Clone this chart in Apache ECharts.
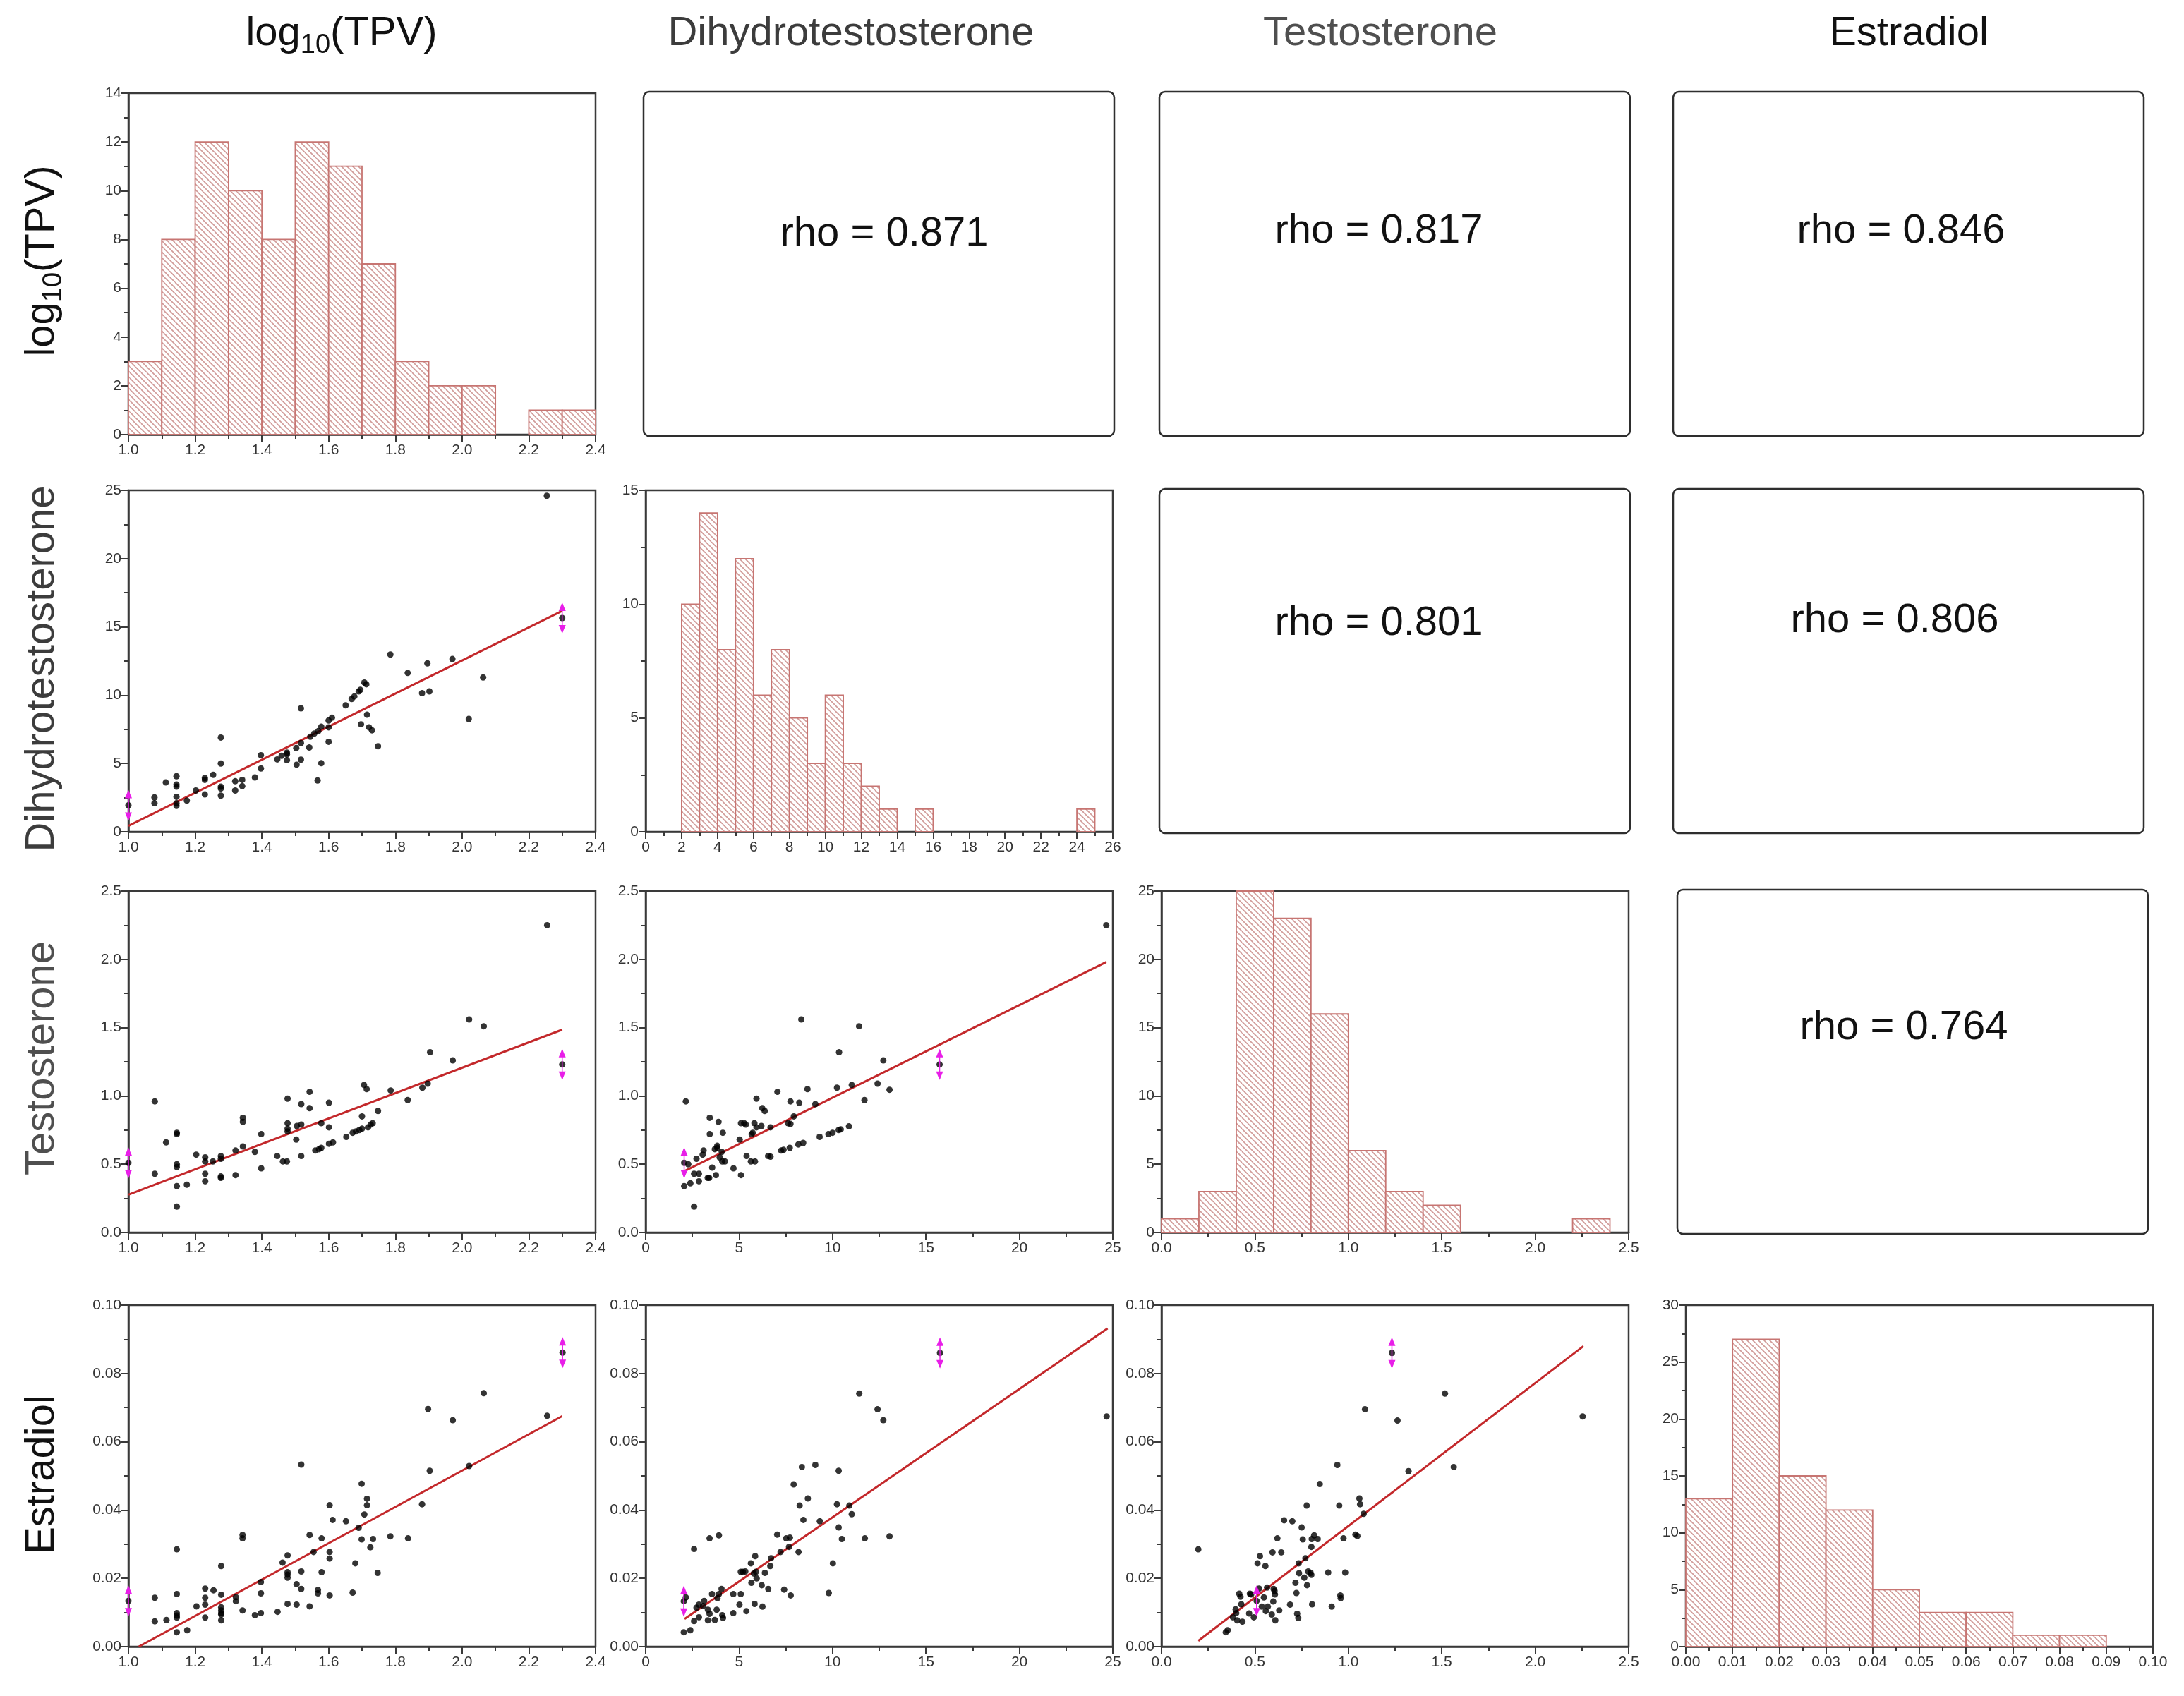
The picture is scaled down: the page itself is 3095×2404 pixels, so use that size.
<!DOCTYPE html>
<html>
<head>
<meta charset="utf-8">
<script src="https://cdn.jsdelivr.net/npm/echarts@6/dist/echarts.min.js"></script>
<style>
  html, body { margin: 0; background: #fff; }
  #main { width: 3095px; height: 2404px; }
</style>
</head>
<body>
<div id="main"></div>
<script>
// ---- data ----
var varNames = ['log10(TPV)', 'Dihydrotestosterone', 'Testosterone', 'Estradiol'];

// histogram counts (bin start, bin width, counts)
var tpvHist = { start: 1.0, width: 0.1, counts: [3, 8, 12, 10, 8, 12, 11, 7, 3, 2, 2, 0, 1, 1] };
var dhtHist = { start: 2, width: 1, counts: [10, 14, 8, 12, 6, 8, 5, 3, 6, 3, 2, 1, 0, 1, 0, 0, 0, 0, 0, 0, 0, 0, 1] };
var tHist = { start: 0, width: 0.2, counts: [1, 3, 25, 23, 16, 6, 3, 2, 0, 0, 0, 1] };
var eHist = { start: 0, width: 0.01, counts: [13, 27, 15, 12, 5, 3, 3, 1, 1] };

// scatter points [x, y]
var tpvDht = [[1.0,1.94],[1.078,2.52],[1.078,2.09],[1.112,3.61],[1.144,4.07],[1.144,3.46],[1.144,3.30],[1.144,2.56],[1.144,2.09],[1.144,1.90],
  [1.175,2.28],[1.202,3.02],[1.229,3.94],[1.229,3.80],[1.229,2.74],[1.254,4.17],[1.277,6.9],[1.277,5.0],[1.277,3.3],[1.277,3.17],[1.277,2.65],
  [1.32,3.7],[1.32,3.02],[1.341,3.8],[1.341,3.35],[1.379,3.98],[1.397,5.61],[1.397,4.63],[1.446,5.30],[1.459,5.56],[1.475,5.8],[1.475,5.67],
  [1.475,5.24],[1.503,6.13],[1.504,4.91],[1.517,9.04],[1.517,6.5],[1.517,5.28],[1.542,6.17],[1.545,6.96],[1.557,7.19],[1.569,7.37],[1.567,3.76],
  [1.578,7.69],[1.578,5.02],[1.6,8.15],[1.6,7.65],[1.6,6.59],[1.61,8.35],[1.651,9.26],[1.669,9.72],[1.677,9.91],[1.69,10.28],[1.695,10.39],
  [1.707,10.93],[1.713,10.8],[1.715,8.57],[1.697,7.87],[1.721,7.65],[1.73,7.43],[1.748,6.26],[1.785,12.98],[1.837,11.63],[1.88,10.15],
  [1.896,12.33],[1.902,10.28],[1.971,12.65],[2.02,8.26],[2.063,11.3],[2.254,24.6],[2.30,15.65]];
var tpvT = [[1.0,0.51],[1.079,0.96],[1.079,0.43],[1.113,0.66],[1.145,0.73],[1.145,0.72],[1.145,0.50],[1.145,0.48],[1.145,0.34],[1.145,0.19],
  [1.175,0.35],[1.203,0.57],[1.23,0.55],[1.23,0.52],[1.23,0.43],[1.23,0.375],[1.253,0.52],[1.277,0.56],[1.277,0.54],[1.277,0.41],[1.277,0.40],
  [1.321,0.60],[1.321,0.42],[1.343,0.84],[1.343,0.81],[1.343,0.63],[1.379,0.59],[1.398,0.72],[1.398,0.47],[1.446,0.56],[1.463,0.52],[1.475,0.52],
  [1.477,0.98],[1.477,0.80],[1.477,0.76],[1.477,0.74],[1.503,0.68],[1.505,0.78],[1.518,0.94],[1.518,0.79],[1.518,0.56],[1.543,1.03],[1.543,0.91],
  [1.56,0.60],[1.571,0.61],[1.578,0.62],[1.578,0.80],[1.601,0.95],[1.601,0.77],[1.601,0.65],[1.613,0.66],[1.653,0.70],[1.672,0.73],[1.682,0.74],
  [1.692,0.75],[1.70,0.76],[1.70,0.85],[1.706,1.08],[1.714,1.05],[1.718,0.77],[1.726,0.79],[1.732,0.80],[1.748,0.89],[1.786,1.04],[1.837,0.97],
  [1.881,1.06],[1.897,1.09],[1.904,1.32],[1.972,1.26],[2.021,1.56],[2.065,1.51],[2.255,2.25],[2.30,1.23]];
var dhtT = [[2.06,0.51],[2.15,0.96],[2.06,0.34],[2.28,0.50],[2.39,0.36],[2.59,0.19],[2.59,0.43],[2.72,0.54],[2.85,0.43],[2.85,0.375],
  [3.05,0.57],[3.1,0.60],[3.32,0.40],[3.4,0.40],[3.43,0.84],[3.43,0.72],[3.56,0.475],[3.7,0.61],[3.76,0.42],[3.83,0.62],[3.83,0.635],[3.9,0.81],
  [3.96,0.55],[4.07,0.59],[4.1,0.52],[4.24,0.52],[4.13,0.73],[4.7,0.47],[5.03,0.68],[5.1,0.80],[5.27,0.80],[5.36,0.79],[5.1,0.42],[5.4,0.56],
  [5.63,0.52],[5.85,0.52],[5.67,0.72],[5.73,0.73],[5.82,0.80],[5.93,0.98],[5.93,0.77],[6.19,0.78],[6.24,0.91],[6.37,0.89],[6.55,0.56],[6.68,0.555],
  [6.68,0.77],[7.05,1.03],[7.25,0.60],[7.38,0.605],[7.62,0.80],[7.71,0.62],[7.75,0.96],[7.75,0.795],[7.93,0.85],[8.22,0.95],[8.17,0.645],
  [8.43,0.656],[8.33,1.56],[8.66,1.05],[9.08,0.94],[9.31,0.70],[9.78,0.72],[10.0,0.73],[10.24,1.06],[10.33,0.75],[10.44,0.755],[10.35,1.32],
  [10.88,0.777],[11.03,1.08],[11.42,1.51],[11.71,0.97],[12.41,1.09],[12.72,1.26],[13.05,1.045],[15.73,1.23],[24.65,2.25]];
var tpvE = [[1.0,0.0134],[1.079,0.0143],[1.079,0.0074],[1.114,0.0078],[1.145,0.0285],[1.145,0.0154],[1.145,0.0098],[1.145,0.0091],[1.145,0.0085],
  [1.145,0.0042],[1.176,0.0048],[1.204,0.0118],[1.23,0.017],[1.23,0.0143],[1.23,0.0123],[1.23,0.0085],[1.255,0.0165],[1.278,0.0236],[1.278,0.0152],
  [1.278,0.0115],[1.278,0.0106],[1.278,0.0098],[1.278,0.0094],[1.278,0.0077],[1.322,0.0145],[1.322,0.0133],[1.342,0.0327],[1.342,0.0317],
  [1.342,0.0106],[1.379,0.0092],[1.397,0.0189],[1.397,0.0156],[1.397,0.0098],[1.447,0.0102],[1.462,0.0246],[1.477,0.0267],[1.477,0.0218],
  [1.477,0.0211],[1.477,0.0202],[1.477,0.0125],[1.504,0.0183],[1.504,0.0123],[1.518,0.0533],[1.518,0.0220],[1.518,0.0169],[1.543,0.0327],
  [1.543,0.0118],[1.555,0.0277],[1.568,0.0166],[1.568,0.0156],[1.579,0.0317],[1.579,0.0218],[1.603,0.0414],[1.603,0.0277],[1.603,0.0258],
  [1.603,0.0150],[1.612,0.0371],[1.652,0.0367],[1.672,0.0158],[1.68,0.0244],[1.69,0.0348],[1.699,0.0477],[1.699,0.0314],[1.707,0.0387],
  [1.715,0.0433],[1.715,0.0414],[1.725,0.0291],[1.733,0.0315],[1.747,0.0216],[1.785,0.0323],[1.838,0.0317],[1.88,0.0417],[1.898,0.0696],
  [1.903,0.0515],[1.972,0.0663],[2.021,0.0529],[2.065,0.0742],[2.255,0.0676],[2.301,0.0861]];
var dhtE = [[2.04,0.0133],[2.15,0.0144],[2.04,0.0042],[2.39,0.0048],[2.59,0.0286],[2.59,0.0075],[2.72,0.0114],[2.85,0.0123],[2.85,0.0086],
  [3.07,0.0119],[3.13,0.0134],[3.33,0.0108],[3.33,0.0077],[3.42,0.0317],[3.42,0.0096],[3.55,0.0154],[3.7,0.0078],[3.8,0.0108],[3.84,0.0142],
  [3.92,0.0326],[3.92,0.0154],[4.06,0.0169],[4.1,0.0092],[4.14,0.0084],[4.69,0.0154],[4.69,0.0098],[5.02,0.0123],[5.09,0.0219],[5.2,0.0219],
  [5.33,0.022],[5.09,0.0154],[5.39,0.0104],[5.63,0.0244],[5.66,0.0187],[5.79,0.0214],[5.83,0.0125],[5.86,0.0265],[5.9,0.0219],[5.94,0.020],
  [6.21,0.018],[6.25,0.0117],[6.38,0.0216],[6.56,0.0169],[6.67,0.0236],[6.71,0.0259],[7.04,0.0328],[7.22,0.0277],[7.41,0.0167],[7.52,0.0317],
  [7.72,0.0319],[7.67,0.0292],[7.76,0.015],[7.92,0.0475],[8.18,0.0277],[8.24,0.0413],[8.36,0.0526],[8.44,0.0371],[8.68,0.0434],[9.08,0.0532],
  [9.32,0.0367],[9.8,0.0157],[10.02,0.0244],[10.24,0.0417],[10.33,0.0349],[10.33,0.0515],[10.5,0.0315],[10.9,0.0413],[11.03,0.0388],
  [11.43,0.0741],[11.73,0.0317],[12.41,0.0695],[12.72,0.0663],[13.05,0.0323],[15.75,0.086],[24.67,0.0674]];
var tE = [[0.197,0.0285],[0.344,0.0042],[0.354,0.0048],[0.382,0.0086],[0.397,0.0109],[0.40,0.0098],[0.405,0.0077],[0.416,0.0155],[0.423,0.0146],
  [0.427,0.0124],[0.433,0.0073],[0.469,0.0097],[0.473,0.0155],[0.48,0.0153],[0.494,0.0086],[0.509,0.0134],[0.514,0.0244],[0.522,0.017],
  [0.527,0.0265],[0.537,0.0117],[0.548,0.0144],[0.556,0.0236],[0.558,0.0104],[0.565,0.0173],[0.569,0.0117],[0.59,0.0094],[0.594,0.0276],
  [0.6,0.0169],[0.605,0.0163],[0.607,0.0153],[0.598,0.0132],[0.609,0.0077],[0.62,0.0317],[0.63,0.0106],[0.641,0.0276],[0.656,0.037],
  [0.688,0.0123],[0.7,0.0367],[0.717,0.0187],[0.722,0.0157],[0.726,0.0096],[0.732,0.0084],[0.734,0.0244],[0.736,0.0215],[0.75,0.0349],
  [0.756,0.0314],[0.764,0.0202],[0.77,0.0259],[0.777,0.0413],[0.779,0.0180],[0.785,0.022],[0.798,0.0216],[0.802,0.021],[0.802,0.0292],
  [0.804,0.0315],[0.817,0.0326],[0.806,0.0124],[0.836,0.0315],[0.847,0.0476],[0.892,0.0217],[0.911,0.0117],[0.941,0.0532],[0.951,0.0413],
  [0.957,0.015],[0.959,0.0142],[0.974,0.0317],[0.983,0.0217],[1.038,0.0328],[1.048,0.0324],[1.059,0.0434],[1.063,0.0417],[1.082,0.0389],
  [1.089,0.0695],[1.233,0.086],[1.263,0.0662],[1.322,0.0514],[1.517,0.0741],[1.564,0.0526],[2.254,0.0674]];

// points marked with magenta double arrows
var tpvDhtFlags = [[1.0,1.94],[2.30,15.65]];
var tpvTFlags = [[1.0,0.51],[2.30,1.23]];
var dhtTFlags = [[2.06,0.51],[15.73,1.23]];
var tpvEFlags = [[1.0,0.0134],[2.301,0.0861]];
var dhtEFlags = [[2.04,0.0133],[15.75,0.086]];
var tEFlags = [[0.509,0.0134],[1.233,0.086]];

// fitted line end points
var tpvDhtFit = [[1.0,0.43],[2.3,16.17]];
var tpvTFit = [[1.0,0.277],[2.3,1.485]];
var dhtTFit = [[2.06,0.449],[24.65,1.98]];
var tpvEFit = [[1.031,0.0],[2.30,0.0675]];
var dhtEFit = [[2.08,0.0081],[24.72,0.0932]];
var tEFit = [[0.197,0.0017],[2.258,0.088]];

// correlation boxes
var rhoText = ['0.871', '0.817', '0.846', '0.801', '0.806', '0.764'];
var rhoCells = [[0,1],[0,2],[0,3],[1,2],[1,3],[2,3]];

// ---- layout ----
var FONT = '"Liberation Sans", Arial, sans-serif';
var colLeft = [182, 915, 1646, 2389];
var rowTop = [132, 695, 1263, 1850];
var cellW = 662, cellH = 484;
var frameColor = '#3a3a3a';
var rhoCenter = [[1253, 332], [1954, 328], [2694, 328], [1954, 884], [2685, 880], [2698, 1457]];

// hatch tile for the histogram bars
function makeHatch() {
  var s = 8;
  var c = document.createElement('canvas');
  c.width = s; c.height = s;
  var ctx = c.getContext('2d');
  ctx.fillStyle = '#fff';
  ctx.fillRect(0, 0, s, s);
  ctx.strokeStyle = '#d09a98';
  ctx.lineWidth = 1.6;
  [-1, 0, 1].forEach(function (k) {
    ctx.beginPath();
    ctx.moveTo(k * s, 0);
    ctx.lineTo(k * s + s, s);
    ctx.stroke();
  });
  return c;
}
var hatch = makeHatch();

function axis(r, pos) {
  var dec = r[3];
  return {
    type: 'value', min: r[0], max: r[1], interval: r[2],
    position: pos,
    axisLine: { show: true, onZero: false, lineStyle: { color: frameColor, width: 2.5 } },
    axisTick: { show: true, inside: false, length: 10, lineStyle: { color: frameColor, width: 2 } },
    minorTick: { show: true, splitNumber: 2, length: 6, lineStyle: { color: frameColor, width: 2 } },
    splitLine: { show: false },
    axisLabel: {
      fontSize: 21, color: '#333', fontFamily: FONT, margin: pos === 'bottom' ? 12 : 10,
      formatter: function (v) { return v.toFixed(dec); }
    }
  };
}

var col1X = [1.0, 2.4, 0.2, 1];
var dhtX = [0, 25, 5, 0];
var tX = [0, 2.5, 0.5, 1];
var dhtY = [0, 25, 5, 0];
var tY = [0, 2.5, 0.5, 1];
var eY = [0, 0.1, 0.02, 2];

var panels = [
  { r: 0, c: 0, hist: tpvHist, x: col1X, y: [0, 14, 2, 0] },
  { r: 1, c: 0, pts: tpvDht, fit: tpvDhtFit, flags: tpvDhtFlags, x: col1X, y: dhtY },
  { r: 1, c: 1, hist: dhtHist, x: [0, 26, 2, 0], y: [0, 15, 5, 0] },
  { r: 2, c: 0, pts: tpvT, fit: tpvTFit, flags: tpvTFlags, x: col1X, y: tY },
  { r: 2, c: 1, pts: dhtT, fit: dhtTFit, flags: dhtTFlags, x: dhtX, y: tY },
  { r: 2, c: 2, hist: tHist, x: tX, y: [0, 25, 5, 0] },
  { r: 3, c: 0, pts: tpvE, fit: tpvEFit, flags: tpvEFlags, x: col1X, y: eY },
  { r: 3, c: 1, pts: dhtE, fit: dhtEFit, flags: dhtEFlags, x: dhtX, y: eY },
  { r: 3, c: 2, pts: tE, fit: tEFit, flags: tEFlags, x: tX, y: eY },
  { r: 3, c: 3, hist: eHist, x: [0, 0.1, 0.01, 2], y: [0, 30, 5, 0] }
];

var grids = [], xAxes = [], yAxes = [], series = [];

function histRender(params, api) {
  var p0 = api.coord([api.value(0), api.value(2)]);
  var p1 = api.coord([api.value(1), 0]);
  return {
    type: 'rect',
    shape: { x: p0[0], y: p0[1], width: p1[0] - p0[0], height: p1[1] - p0[1] },
    style: { fill: { image: hatch, repeat: 'repeat' }, stroke: '#c77572', lineWidth: 1.8 }
  };
}

function arrowRender(params, api) {
  var p = api.coord([api.value(0), api.value(1)]);
  var h = 20, tw = 5, th = 10, col = '#e81ee8';
  return {
    type: 'group',
    children: [
      { type: 'line', shape: { x1: p[0], y1: p[1] - h, x2: p[0], y2: p[1] + h }, style: { stroke: col, lineWidth: 1.5 } },
      { type: 'polygon', shape: { points: [[p[0], p[1] - h - 2], [p[0] - tw, p[1] - h + th], [p[0] + tw, p[1] - h + th]] }, style: { fill: col } },
      { type: 'polygon', shape: { points: [[p[0], p[1] + h + 2], [p[0] - tw, p[1] + h - th], [p[0] + tw, p[1] + h - th]] }, style: { fill: col } }
    ]
  };
}

panels.forEach(function (p, i) {
  grids.push({
    left: colLeft[p.c], top: rowTop[p.r], width: cellW, height: cellH,
    show: true, borderColor: frameColor, borderWidth: 2.5, backgroundColor: 'transparent'
  });
  var xa = axis(p.x, 'bottom'); xa.gridIndex = i;
  var ya = axis(p.y, 'left'); ya.gridIndex = i;
  xAxes.push(xa); yAxes.push(ya);
  if (p.hist) {
    var h = p.hist;
    var bars = [];
    h.counts.forEach(function (n, k) {
      if (n > 0) bars.push([h.start + k * h.width, h.start + (k + 1) * h.width, n]);
    });
    series.push({
      type: 'custom', xAxisIndex: i, yAxisIndex: i, data: bars,
      encode: { x: [0, 1], y: 2 }, renderItem: histRender, silent: true
    });
  } else {
    series.push({
      type: 'line', xAxisIndex: i, yAxisIndex: i, data: p.fit, symbol: 'none',
      lineStyle: { color: '#c3282b', width: 3 }, z: 2, silent: true
    });
    series.push({
      type: 'scatter', xAxisIndex: i, yAxisIndex: i, data: p.pts, symbol: 'circle', symbolSize: 9,
      itemStyle: { color: '#000' }, z: 3, silent: true
    });
    series.push({
      type: 'custom', xAxisIndex: i, yAxisIndex: i, data: p.flags, renderItem: arrowRender,
      z: 4, silent: true
    });
  }
});

// headers, row labels, rho boxes
var graphics = [];
var headerX = [484, 1206, 1956, 2705];
var headerColor = ['#111', '#3c3c3c', '#4f4f4f', '#111'];
var richLabel = {
  a: { fontSize: 58, fontFamily: FONT, lineHeight: 72, verticalAlign: 'middle' },
  s: { fontSize: 38, fontFamily: FONT, lineHeight: 40, verticalAlign: 'bottom' }
};
function labelText(k) {
  return k === 0 ? '{a|log}{s|10}{a|(TPV)}' : '{a|' + varNames[k] + '}';
}
varNames.forEach(function (name, k) {
  graphics.push({
    type: 'text', x: headerX[k], y: 48,
    style: {
      text: labelText(k), rich: richLabel, fill: headerColor[k],
      align: 'center', verticalAlign: 'middle', textAlign: 'center', textVerticalAlign: 'middle'
    }
  });
});
var rowLabelY = [370, 948, 1500, 2090];
varNames.forEach(function (name, k) {
  graphics.push({
    type: 'text', x: 60, y: rowLabelY[k], rotation: Math.PI / 2,
    style: {
      text: labelText(k), rich: richLabel, fill: headerColor[k],
      align: 'center', verticalAlign: 'middle', textAlign: 'center', textVerticalAlign: 'middle'
    }
  });
});
rhoCells.forEach(function (rc, k) {
  var bx = rc[1] === 3 ? (rc[0] === 2 ? 2377 : 2371) : colLeft[rc[1]] - 3;
  var by = rowTop[rc[0]] - 2;
  graphics.push({
    type: 'rect',
    shape: { x: bx, y: by, width: cellW + 5, height: cellH + 4, r: 8 },
    style: { fill: 'none', stroke: '#2e2e2e', lineWidth: 2.5 }
  });
  graphics.push({
    type: 'text', x: rhoCenter[k][0], y: rhoCenter[k][1],
    style: {
      text: 'rho = ' + rhoText[k], font: '58px ' + FONT, fill: '#111',
      align: 'center', verticalAlign: 'middle', textAlign: 'center', textVerticalAlign: 'middle'
    }
  });
});

var chart = echarts.init(document.getElementById('main'));
chart.setOption({
  animation: false,
  backgroundColor: '#fff',
  grid: grids,
  xAxis: xAxes,
  yAxis: yAxes,
  series: series,
  graphic: graphics
});
</script>
</body>
</html>
